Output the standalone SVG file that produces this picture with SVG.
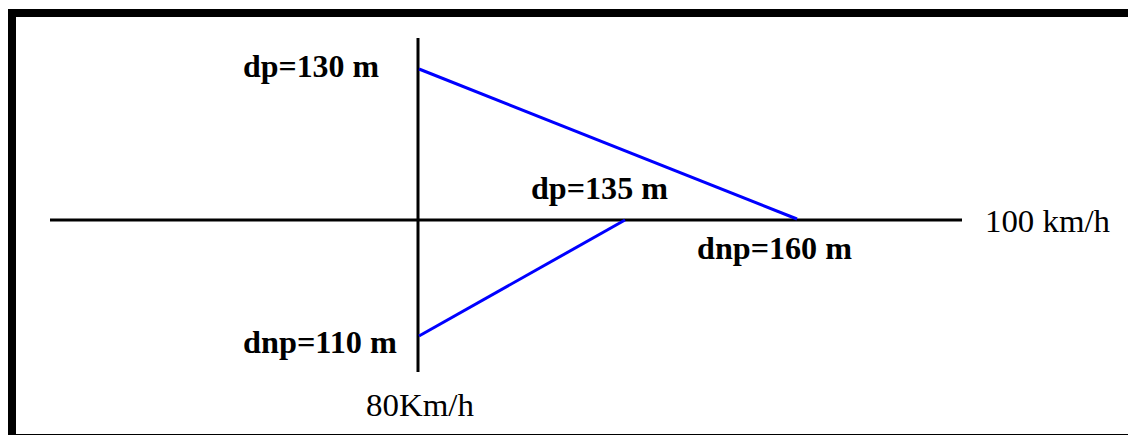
<svg xmlns="http://www.w3.org/2000/svg" width="1128" height="435" viewBox="0 0 1128 435">
<style>
.b{font-family:"Liberation Serif","Times New Roman",Times,serif;font-weight:bold;font-size:31px;fill:#000}
.r{font-family:"Liberation Serif","Times New Roman",Times,serif;font-size:31px;fill:#000}
.ax{stroke:#000;stroke-width:3;fill:none}
.bl{stroke:#0000ff;stroke-width:3;fill:none}
</style>
<rect x="0" y="0" width="1128" height="435" fill="#fff"/>
<rect x="12" y="13" width="1130" height="425" fill="none" stroke="#000" stroke-width="8"/>
<g id="connectors">
<line class="ax" x1="418" y1="38" x2="418" y2="372"/>
<line class="ax" x1="50" y1="220" x2="962" y2="220"/>
<line class="bl" x1="419" y1="69" x2="797" y2="219"/>
<line class="bl" x1="419" y1="336" x2="625" y2="220"/>
</g>
<g id="label-dp130"><text class="b" x="243" y="77" textLength="136" lengthAdjust="spacingAndGlyphs">dp=130 m</text></g>
<g id="label-dp135"><text class="b" x="531" y="199" textLength="137" lengthAdjust="spacingAndGlyphs">dp=135 m</text></g>
<g id="label-dnp160"><text class="b" x="697" y="259" textLength="155" lengthAdjust="spacingAndGlyphs">dnp=160 m</text></g>
<g id="label-dnp110"><text class="b" x="243" y="353" textLength="154" lengthAdjust="spacingAndGlyphs">dnp=110 m</text></g>
<g id="label-100kmh"><text class="r" x="985" y="232" textLength="125" lengthAdjust="spacingAndGlyphs">100 km/h</text></g>
<g id="label-80kmh"><text class="r" x="366" y="416" textLength="108" lengthAdjust="spacingAndGlyphs">80Km/h</text></g>
</svg>
